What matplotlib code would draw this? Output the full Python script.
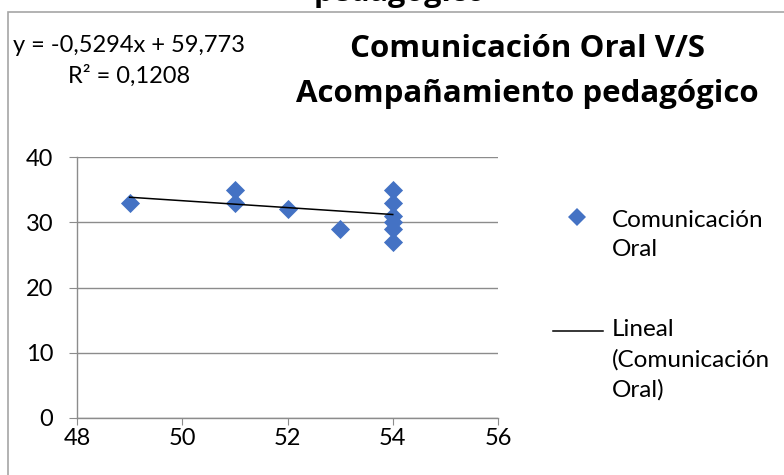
import matplotlib
matplotlib.use("Agg")
import matplotlib.pyplot as plt
from matplotlib.lines import Line2D
from matplotlib.patches import Rectangle

# ---- data ----
x_acompanamiento = [49, 51, 51, 52, 53, 54, 54, 54, 54, 54, 54]
y_comunicacion = [33, 35, 33, 32, 29, 35, 33, 31, 30, 29, 27]
trend_slope = -0.5294
trend_intercept = 59.773
x_ticks = [48, 50, 52, 54, 56]
y_ticks = [0, 10, 20, 30, 40]
title_lines = ["Comunicación Oral V/S", "Acompañamiento pedagógico"]
equation_lines = ["y = -0,5294x + 59,773", "R² = 0,1208"]
legend_series_lines = ["Comunicación", "Oral"]
legend_trend_lines = ["Lineal", "(Comunicación", "Oral)"]

plt.rcParams['font.family'] = ['Lato', 'DejaVu Sans']

W, H = 784, 475
fig = plt.figure(figsize=(W / 100, H / 100), dpi=100)

def fx(px):
    return px / W

def fy(py):
    return 1 - py / H

blue = '#4472C4'
grey = '#A6A6A6'
grid_grey = '#8C8C8C'

# outer chart frame (extends beyond image)
fig.patches.append(Rectangle((fx(8), fy(490)), 1.2, fy(12) - fy(490),
                             transform=fig.transFigure, fill=False,
                             edgecolor=grey, lw=1.2))

# clipped title of a chart above
fig.text(fx(400), fy(1.5), "pedagógico", ha='center', va='baseline',
         fontsize=22, fontweight='bold', family=['Open Sans', 'DejaVu Sans'])

ax = fig.add_axes([fx(77), fy(418), fx(498) - fx(77), fy(157) - fy(418)])
ax.set_xlim(48, 56)
ax.set_ylim(0, 40)
ax.set_xticks(x_ticks)
ax.set_yticks(y_ticks)
ax.grid(axis='y', color=grid_grey, lw=1.0)
ax.set_axisbelow(True)
for s in ['top', 'right']:
    ax.spines[s].set_visible(False)
for s in ['left', 'bottom']:
    ax.spines[s].set_color(grid_grey)
    ax.spines[s].set_linewidth(1.0)
ax.tick_params(axis='y', length=6, color=grid_grey, labelsize=17, pad=11)
ax.tick_params(axis='x', length=5, color=grid_grey, labelsize=17, pad=2)

ax.scatter(x_acompanamiento, y_comunicacion, marker='D', s=95, color=blue,
           linewidths=0, zorder=3)
x0, x1 = min(x_acompanamiento), max(x_acompanamiento)
ax.plot([x0, x1], [trend_slope * x0 + trend_intercept, trend_slope * x1 + trend_intercept],
        color='black', lw=1.1, zorder=4)

# title
for line, base in zip(title_lines, [57, 102]):
    fig.text(fx(527), fy(base), line, ha='center', va='baseline', fontsize=22.5,
             fontweight='bold', family=['Open Sans', 'DejaVu Sans'])

# equation
for line, base in zip(equation_lines, [52, 82.5]):
    fig.text(fx(129), fy(base), line, ha='center', va='baseline', fontsize=17)

# legend (manual)
fig.add_artist(Line2D([fx(577)], [fy(217)], marker='D', markersize=9, color=blue,
                      markeredgewidth=0, transform=fig.transFigure))
fig.add_artist(Line2D([fx(553), fx(603)], [fy(331), fy(331)], color='black', lw=1.1,
                      transform=fig.transFigure))
for line, base in zip(legend_series_lines, [226.5, 256.5]):
    fig.text(fx(612), fy(base), line, ha='left', va='baseline', fontsize=17.5)
for line, base in zip(legend_trend_lines, [336.5, 366.5, 396.5]):
    fig.text(fx(612), fy(base), line, ha='left', va='baseline', fontsize=17.5)

fig.savefig('out.png', dpi=100)
